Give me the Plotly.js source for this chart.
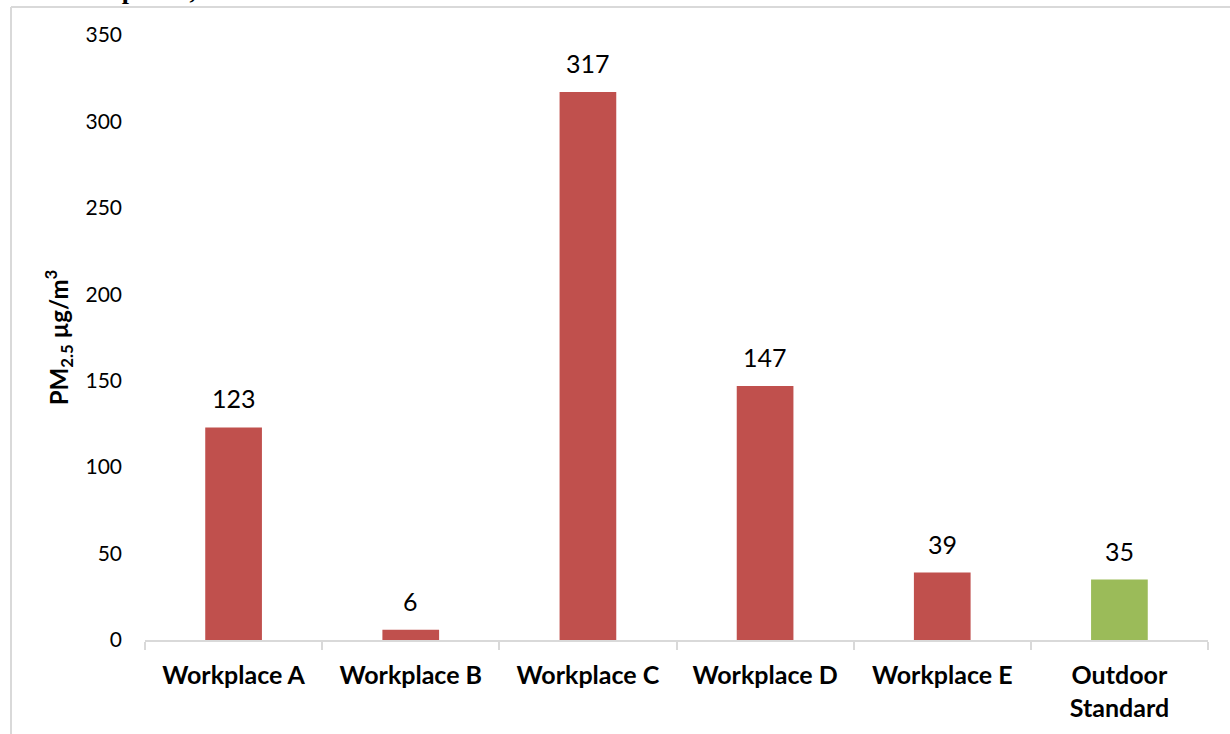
<!DOCTYPE html>
<html>
<head>
<meta charset="utf-8">
<script src="https://cdn.plot.ly/plotly-3.0.1.min.js"></script>
<style>html,body{margin:0;padding:0;background:#fff;}#chart{width:1230px;height:734px;}</style>
</head>
<body>
<div id="chart"></div>
<script>
const categories = ["Workplace A", "Workplace B", "Workplace C", "Workplace D", "Workplace E", "Outdoor<br>Standard"];
const values = [123, 6, 317, 147, 39, 35];
const barColors = ["#C0504D", "#C0504D", "#C0504D", "#C0504D", "#C0504D", "#9BBB59"];
const yTicks = [0, 50, 100, 150, 200, 250, 300, 350];
const yTitle = "PM<sub>2.5</sub> µg/m<sup>3</sup>";
const captionFragment = "two workplaces, Ho";

const font = "Lato, 'Open Sans', sans-serif";

const trace = {
  type: "bar",
  x: categories,
  y: values,
  marker: {color: barColors, line: {width: 0}},
  hoverinfo: "none"
};

const annotations = categories.map((c, i) => ({
  x: c, y: values[i], xref: "x", yref: "y",
  text: String(values[i]), showarrow: false,
  yanchor: "bottom", yshift: 12,
  font: {family: font, size: 25, color: "#000"}
}));

annotations.push({
  xref: "paper", yref: "paper", x: -0.122, y: 1.047, xanchor: "left", yanchor: "bottom",
  text: "<b>" + captionFragment + "</b>", showarrow: false,
  font: {family: "'Liberation Serif', 'DejaVu Serif', serif", size: 26, color: "#000"}
});

const layout = {
  width: 1230, height: 734,
  margin: {l: 145, r: 22, t: 35, b: 94, pad: 0},
  paper_bgcolor: "#fff", plot_bgcolor: "#fff",
  showlegend: false,
  bargap: 0.68,
  xaxis: {
    type: "category",
    showgrid: false, zeroline: false,
    showline: true, linecolor: "#d9d9d9", linewidth: 2,
    ticks: "outside", tickson: "boundaries", ticklen: 8, tickcolor: "#d9d9d9", tickwidth: 2,
    ticklabelstandoff: 12,
    tickfont: {family: font, size: 25, color: "#000", weight: "bold"},
    automargin: false
  },
  yaxis: {
    range: [0, 350], tickvals: yTicks,
    showgrid: false, zeroline: false, showline: false, ticks: "",
    ticklabelstandoff: 22,
    tickfont: {family: font, size: 21, color: "#000"},
    title: {text: "<b>" + yTitle + "</b>", standoff: 10, font: {family: font, size: 24, color: "#000"}},
    automargin: false
  },
  annotations: annotations,
  shapes: [
    {type: "line", xref: "paper", yref: "paper", x0: -134/1063, x1: 1.05, y0: 1 + 28/605, y1: 1 + 28/605,
     line: {color: "#d9d9d9", width: 2}},
    {type: "line", xref: "paper", yref: "paper", x0: -134/1063, x1: -134/1063, y0: -0.2, y1: 1 + 28/605,
     line: {color: "#d9d9d9", width: 2}}
  ]
};

Plotly.newPlot("chart", [trace], layout, {displayModeBar: false, staticPlot: true});
</script>
</body>
</html>
